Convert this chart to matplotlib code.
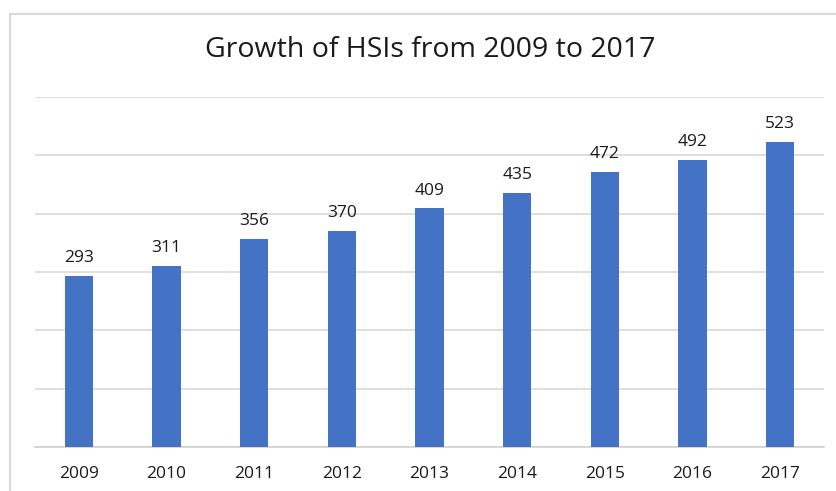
import matplotlib.pyplot as plt
from matplotlib.lines import Line2D

plt.rcParams['font.family'] = ['Open Sans', 'DejaVu Sans']

years = ['2009', '2010', '2011', '2012', '2013', '2014', '2015', '2016', '2017']
hsis = [293, 311, 356, 370, 409, 435, 472, 492, 523]

fig = plt.figure(figsize=(8.36, 4.91), dpi=100)
ax = fig.add_axes([35 / 836, 1 - 447 / 491, 789 / 836, 350 / 491])

x = range(len(years))
ax.bar(x, hsis, width=0.32, color='#4472C4', zorder=3)
for xi, v in zip(x, hsis):
    ax.annotate(str(v), (xi, v), xytext=(0, 10), textcoords='offset points',
                ha='center', va='baseline', fontsize=12.5, color='#1a1a1a')

ax.set_xlim(-0.5, len(years) - 0.5)
ax.set_ylim(0, 600)
ax.set_yticks(range(0, 601, 100))
ax.set_yticklabels([])
ax.tick_params(axis='y', length=0)
ax.set_xticks(list(x))
ax.set_xticklabels(years, fontsize=12.5, color='#1a1a1a')
ax.tick_params(axis='x', length=0, pad=14)
ax.grid(axis='y', color='#d9d9d9', linewidth=1.2, zorder=0)
for s in ['top', 'right', 'left']:
    ax.spines[s].set_visible(False)
ax.spines['bottom'].set_color('#d0d0d0')
ax.spines['bottom'].set_linewidth(1.2)

fig.text(430 / 836, 1 - 50 / 491, 'Growth of HSIs from 2009 to 2017',
         ha='center', va='center', fontsize=20.5, color='#1a1a1a')

# chart frame
fig.add_artist(Line2D([10 / 836, 10 / 836], [0, 1 - 14 / 491],
                      transform=fig.transFigure, color='#d9d9d9', lw=1.5))
fig.add_artist(Line2D([10 / 836, 1], [1 - 14 / 491, 1 - 14 / 491],
                      transform=fig.transFigure, color='#d9d9d9', lw=1.5))

fig.savefig('out.png', dpi=100)
